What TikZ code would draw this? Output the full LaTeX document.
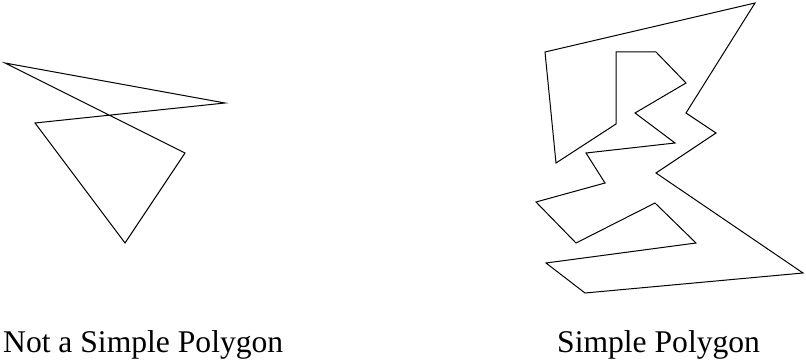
\documentclass[tikz,border=0pt]{standalone}
\usepackage{fontspec}
\setmainfont{Liberation Serif}
\begin{document}
\begin{tikzpicture}[x=1pt,y=-1pt,
  poly/.style={draw=black,line width=1pt,line join=miter},
  caption/.style={anchor=base west,inner sep=0pt,font=\fontsize{31.6}{36}\selectfont}]
\useasboundingbox (0,0) rectangle (806,361);
% non-simple polygon
\coordinate (a1) at (5,63);
\coordinate (a2) at (225,103);
\coordinate (a3) at (35,123);
\coordinate (a4) at (125,243);
\coordinate (a5) at (185,153);
\draw[poly] (a1) -- (a2) -- (a3) -- (a4) -- (a5) -- cycle;
% simple polygon
\coordinate (b1) at (755,3);
\coordinate (b2) at (545,52);
\coordinate (b3) at (556,163);
\coordinate (b4) at (616,124);
\coordinate (b5) at (616,52);
\coordinate (b6) at (656,52);
\coordinate (b7) at (686,83);
\coordinate (b8) at (635,113);
\coordinate (b9) at (675,143);
\coordinate (b10) at (586,153);
\coordinate (b11) at (605,183);
\coordinate (b12) at (536,202);
\coordinate (b13) at (576,243);
\coordinate (b14) at (655,203);
\coordinate (b15) at (696,243);
\coordinate (b16) at (546,263);
\coordinate (b17) at (585,293);
\coordinate (b18) at (803,273);
\coordinate (b19) at (656,173);
\coordinate (b20) at (716,133);
\coordinate (b21) at (686,113);
\draw[poly] (b1) -- (b2) -- (b3) -- (b4) -- (b5) -- (b6) -- (b7) -- (b8) -- (b9) -- (b10) -- (b11) -- (b12) -- (b13) -- (b14) -- (b15) -- (b16) -- (b17) -- (b18) -- (b19) -- (b20) -- (b21) -- cycle;
% captions
\node[caption] (cap1) at (3,352) {Not a Simple Polygon};
\node[caption] (cap2) at (557,352) {Simple Polygon};
\end{tikzpicture}
\end{document}
